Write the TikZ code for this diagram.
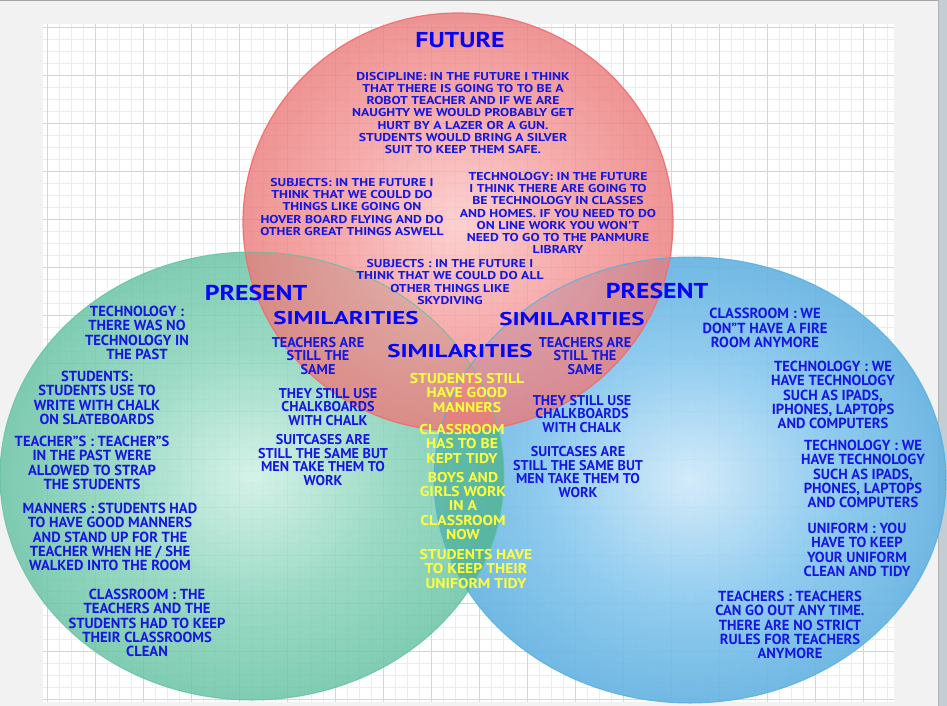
\documentclass[tikz,border=0pt]{standalone}
\usepackage{fontspec}
\setmainfont{PT Sans}
\newfontfamily\bodyfont{PT Sans}[FakeStretch=1.2]
\newfontfamily\yfont{PT Sans}[FakeStretch=1.1]
\newfontfamily\headfont{PT Sans}[FakeStretch=1.2]
\newfontfamily\simfont{PT Sans}[FakeStretch=1.35]
\definecolor{bggray}{RGB}{242,242,242}
\definecolor{gridminor}{RGB}{236,236,236}
\definecolor{gridmajor}{RGB}{214,214,214}
\definecolor{scrollgray}{RGB}{196,204,212}
\definecolor{txtblue}{RGB}{22,22,225}
\definecolor{headblue}{RGB}{5,5,250}
\definecolor{ytxt}{RGB}{255,255,60}
\definecolor{lensteal}{RGB}{40,150,130}
\definecolor{redA}{RGB}{252,198,198}
\definecolor{redB}{RGB}{244,150,150}
\definecolor{redC}{RGB}{230,104,104}
\definecolor{redD}{RGB}{220,82,82}
\definecolor{redline}{RGB}{240,108,108}
\definecolor{grnA}{RGB}{206,240,229}
\definecolor{grnB}{RGB}{138,212,188}
\definecolor{grnC}{RGB}{86,186,152}
\definecolor{grnD}{RGB}{64,170,134}
\definecolor{grnline}{RGB}{96,196,160}
\definecolor{bluA}{RGB}{208,234,250}
\definecolor{bluB}{RGB}{136,200,238}
\definecolor{bluC}{RGB}{80,166,218}
\definecolor{bluD}{RGB}{52,144,202}
\definecolor{bluline}{RGB}{80,176,226}
\pgfdeclareradialshading{redsh}{\pgfpoint{0bp}{0bp}}{color(0bp)=(redA); color(14bp)=(redB); color(32bp)=(redC); color(50bp)=(redD)}
\pgfdeclareradialshading{grnsh}{\pgfpoint{0bp}{0bp}}{color(0bp)=(grnA); color(14bp)=(grnB); color(32bp)=(grnC); color(50bp)=(grnD)}
\pgfdeclareradialshading{blush}{\pgfpoint{0bp}{0bp}}{color(0bp)=(bluA); color(14bp)=(bluB); color(32bp)=(bluC); color(50bp)=(bluD)}
\begin{document}
\begin{tikzpicture}[x=1pt,y=-1pt,
  head/.style={font=\headfont\bfseries\fontsize{21.5}{22}\selectfont, text=headblue, inner sep=0pt},
  simhead/.style={font=\simfont\bfseries\fontsize{18.5}{20}\selectfont, text=headblue, inner sep=0pt},
  futtxt/.style={font=\bodyfont\bfseries\fontsize{11.4}{12.2}\selectfont, text=txtblue, align=center, inner sep=0pt},
  innertxt/.style={font=\bfseries\fontsize{14.2}{13.4}\selectfont, text=txtblue, align=center, inner sep=0pt},
  outertxt/.style={font=\bfseries\fontsize{14.6}{14.4}\selectfont, text=txtblue, align=center, inner sep=0pt},
  yeltxt/.style={font=\yfont\bfseries\fontsize{14.2}{14.2}\selectfont, text=ytxt, align=center, inner sep=0pt}]
\useasboundingbox (0,0) rectangle (947,706);
% page background
\fill[bggray] (0,0) rectangle (947,706);
\fill[white] (43,24) rectangle (894,702);
\foreach \x in {47,59,...,887} \draw[gridminor, line width=0.7pt] (\x,24) -- (\x,702);
\foreach \y in {27,39,...,699} \draw[gridminor, line width=0.7pt] (43,\y) -- (894,\y);
\foreach \x in {47,95,...,863} \draw[gridmajor, line width=0.8pt] (\x,24) -- (\x,702);
\foreach \y in {27,75,...,699} \draw[gridmajor, line width=0.8pt] (43,\y) -- (894,\y);
\draw[gray!70, line width=1pt] (0,0.5) -- (947,0.5);
\fill[scrollgray] (938,0) rectangle (947,706);
\draw[gray!60, line width=0.8pt] (938,0) -- (938,706);
% circles
\coordinate (rc) at (458,222);
\coordinate (gc) at (252,476);
\coordinate (bc) at (690,480);
\shade[shading=blush, fill opacity=0.92] (bc) ellipse [x radius=256pt, y radius=223pt];
\shade[shading=grnsh, fill opacity=0.85] (gc) ellipse [x radius=252pt, y radius=224pt];
\begin{scope}
  \clip (gc) ellipse [x radius=252pt, y radius=224pt];
  \fill[lensteal, fill opacity=0.3] (bc) ellipse [x radius=256pt, y radius=223pt];
\end{scope}
\shade[shading=redsh, fill opacity=0.8] (rc) ellipse [x radius=215pt, y radius=209pt];
\begin{scope}
  \clip (gc) ellipse [x radius=252pt, y radius=224pt];
  \clip (bc) ellipse [x radius=256pt, y radius=223pt];
  \shade[shading=redsh, fill opacity=0.7] (rc) ellipse [x radius=215pt, y radius=209pt];
\end{scope}
\draw[bluline, line width=1pt, opacity=0.8] (bc) ellipse [x radius=256pt, y radius=223pt];
\draw[grnline, line width=1pt, opacity=0.8] (gc) ellipse [x radius=252pt, y radius=224pt];
\draw[redline, line width=1.2pt, opacity=0.9] (rc) ellipse [x radius=215pt, y radius=209pt];
% future
\node[head] (fut) at (460,40) {FUTURE};
\node[futtxt] (disc) at (463,113) {DISCIPLINE: IN THE FUTURE I THINK\\THAT THERE IS GOING TO TO BE A\\ROBOT TEACHER AND IF WE ARE\\NAUGHTY WE WOULD PROBABLY GET\\HURT BY A LAZER OR A GUN.\\STUDENTS WOULD BRING A SILVER\\SUIT TO KEEP THEM SAFE.};
\node[futtxt] (subja) at (352,207) {SUBJECTS: IN THE FUTURE I\\THINK THAT WE COULD DO\\THINGS LIKE GOING ON\\HOVER BOARD FLYING AND DO\\OTHER GREAT THINGS ASWELL};
\node[futtxt] (techf) at (558,213) {TECHNOLOGY: IN THE FUTURE\\I THINK THERE ARE GOING TO\\BE TECHNOLOGY IN CLASSES\\AND HOMES. IF YOU NEED TO DO\\ON LINE WORK YOU WON'T\\NEED TO GO TO THE PANMURE\\LIBRARY};
\node[futtxt] (subjb) at (450,282) {SUBJECTS : IN THE FUTURE I\\THINK THAT WE COULD DO ALL\\OTHER THINGS LIKE\\SKYDIVING};
% headings
\node[head] (presl) at (256,293) {PRESENT};
\node[head] (presr) at (657,291) {PRESENT};
\node[simhead] (siml) at (346,318) {SIMILARITIES};
\node[simhead] (simr) at (572,319) {SIMILARITIES};
\node[simhead] (simc) at (460,351) {SIMILARITIES};
% inner left
\node[innertxt] (tl) at (318,356) {TEACHERS ARE\\STILL THE\\SAME};
\node[innertxt] (cl) at (328,407) {THEY STILL USE\\CHALKBOARDS\\WITH CHALK};
\node[innertxt] (sl) at (323,460) {SUITCASES ARE\\STILL THE SAME BUT\\MEN TAKE THEM TO\\WORK};
% inner right
\node[innertxt] (tr) at (585,356) {TEACHERS ARE\\STILL THE\\SAME};
\node[innertxt] (cr) at (582,414) {THEY STILL USE\\CHALKBOARDS\\WITH CHALK};
\node[innertxt] (sr) at (578,472) {SUITCASES ARE\\STILL THE SAME BUT\\MEN TAKE THEM TO\\WORK};
% center yellow
\node[yeltxt] (ya) at (467,393) {STUDENTS STILL\\HAVE GOOD\\MANNERS};
\node[yeltxt] (yb) at (462,444) {CLASSROOM\\HAS TO BE\\KEPT TIDY};
\node[yeltxt] (yc) at (463,506) {BOYS AND\\GIRLS WORK\\IN A\\CLASSROOM\\NOW};
\node[yeltxt] (yd) at (476,569) {STUDENTS HAVE\\TO KEEP THEIR\\UNIFORM TIDY};
% left outer
\node[outertxt] (la) at (137,333) {TECHNOLOGY :\\THERE WAS NO\\TECHNOLOGY IN\\THE PAST};
\node[outertxt] (lb) at (97,398) {STUDENTS:\\STUDENTS USE TO\\WRITE WITH CHALK\\ON SLATEBOARDS};
\node[outertxt] (lc) at (92,463) {TEACHER”S : TEACHER”S\\IN THE PAST WERE\\ALLOWED TO STRAP\\THE STUDENTS};
\node[outertxt] (ld) at (110,537) {MANNERS : STUDENTS HAD\\TO HAVE GOOD MANNERS\\AND STAND UP FOR THE\\TEACHER WHEN HE / SHE\\WALKED INTO THE ROOM};
\node[outertxt] (le) at (147,623) {CLASSROOM : THE\\TEACHERS AND THE\\STUDENTS HAD TO KEEP\\THEIR CLASSROOMS\\CLEAN};
% right outer
\node[outertxt] (ra) at (765,328) {CLASSROOM : WE\\DON”T HAVE A FIRE\\ROOM ANYMORE};
\node[outertxt] (rb) at (833,395) {TECHNOLOGY : WE\\HAVE TECHNOLOGY\\SUCH AS IPADS,\\IPHONES, LAPTOPS\\AND COMPUTERS};
\node[outertxt] (rc2) at (863,474) {TECHNOLOGY : WE\\HAVE TECHNOLOGY\\SUCH AS IPADS,\\PHONES, LAPTOPS\\AND COMPUTERS};
\node[outertxt] (rd) at (857,550) {UNIFORM : YOU\\HAVE TO KEEP\\YOUR UNIFORM\\CLEAN AND TIDY};
\node[outertxt] (re) at (790,625) {TEACHERS : TEACHERS\\CAN GO OUT ANY TIME.\\THERE ARE NO STRICT\\RULES FOR TEACHERS\\ANYMORE};
\end{tikzpicture}
\end{document}
